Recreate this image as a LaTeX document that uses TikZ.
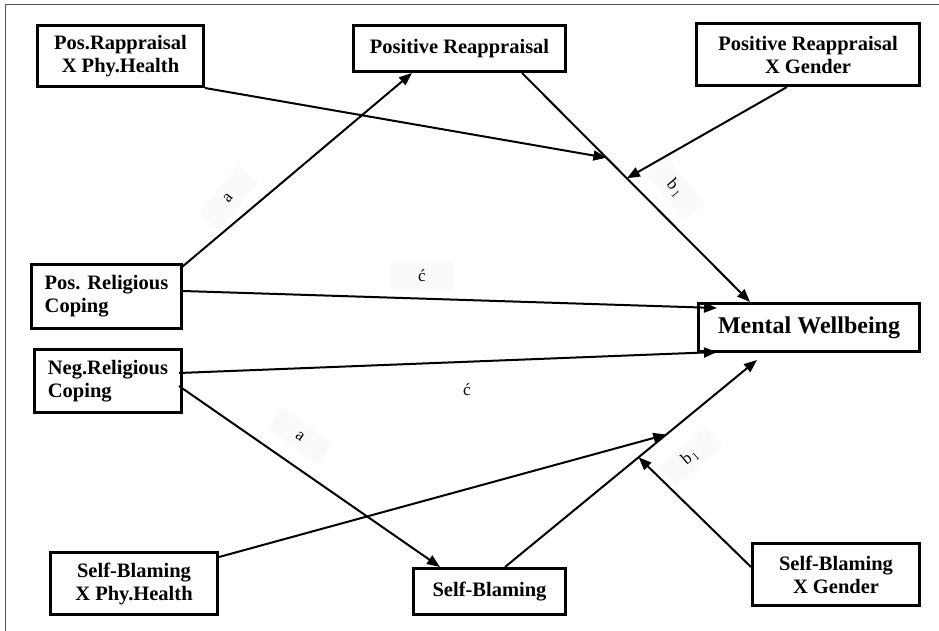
\documentclass[tikz,border=0pt]{standalone}
\usepackage{fontspec}
\setmainfont{Liberation Serif}
\usetikzlibrary{arrows.meta,calc}
\begin{document}
\begin{tikzpicture}[x=1pt,y=-1pt,
  box/.style={draw, line width=3pt, align=center, inner sep=0pt,
    font=\bfseries\fontsize{20.5}{23}\selectfont},
  arr/.style={line width=2pt, -{Triangle[length=13pt,width=10pt]}},
  lbl/.style={fill=black!2, inner sep=2pt, minimum width=62pt, minimum height=26pt,
    font=\fontsize{17}{17}\selectfont}]
\useasboundingbox (0,0) rectangle (939,631);
% frame
\draw[black!65, line width=1pt] (5,640) -- (5,5) -- (945,5);
% boxes
\node[box, minimum width=166pt, minimum height=61pt] (prxph) at (120.5,56) {Pos.Rappraisal\\X Phy.Health};
\node[box, minimum width=212pt, minimum height=46pt] (pr) at (459.5,48.5) {Positive Reappraisal};
\node[box, minimum width=223pt, minimum height=62pt] (prxg) at (808,54.5) {Positive Reappraisal\\X Gender};
\node[box, minimum width=150pt, minimum height=64pt, align=left] (prc) at (106.5,296.5) {Pos. Religious\\Coping};
\node[box, minimum width=147pt, minimum height=63pt, align=left] (nrc) at (108,381) {Neg.Religious\\Coping};
\node[box, minimum width=221pt, minimum height=48pt, font=\bfseries\fontsize{24}{26}\selectfont] (mw) at (809,327.5) {Mental Wellbeing};
\node[box, minimum width=167pt, minimum height=62pt] (sbxph) at (134,583.5) {Self-Blaming\\X Phy.Health};
\node[box, minimum width=152pt, minimum height=46pt] (sb) at (489.5,591.5) {Self-Blaming};
\node[box, minimum width=167pt, minimum height=62pt] (sbxg) at (836,574.5) {Self-Blaming\\X Gender};
% path endpoints on boxes
\coordinate (prB1) at ($(pr.south west)+(60,0)$);
\coordinate (prB2) at ($(pr.south west)+(170,0)$);
\coordinate (mwT) at ($(mw.north west)+(53,0)$);
\coordinate (sbT1) at ($(sb.north west)+(28,0)$);
\coordinate (sbT2) at ($(sb.north west)+(93,0)$);
\coordinate (mwB) at ($(mw.south west)+(60,7)$);
\coordinate (x1) at ($(prB2)!0.37!(mwT)$);
\coordinate (x2) at ($(prB2)!0.46!(mwT)$);
\coordinate (x3) at ($(sbT2)!0.64!(mwB)$);
\coordinate (x4) at ($(sbT2)!0.53!(mwB)$);
% labels
\node[lbl, rotate=50] (la1) at (228,198) {a};
\node[lbl, rotate=-50] (lb1) at (675,188) {b\kern1.5pt$_1$};
\node[lbl] (lc1) at (422,276) {ć};
\node[lbl, fill=none] (lc2) at (467,390) {ć};
\node[lbl, rotate=-35] (la2) at (300,436) {a};
\node[lbl, rotate=40] (lb2) at (690,457) {b\kern1.5pt$_1$};
% connectors
\draw[arr] ($(prc.north east)+(-1,4)$) -- (prB1);
\draw[arr] (prxph.south east) -- (x1);
\draw[arr] (prB2) -- (mwT);
\draw[arr] ($(prxg.south west)+(92,0)$) -- (x2);
\draw[arr] ($(prc.north east)+(0,28)$) -- ($(mw.north west)+(20,6)$);
\draw[arr] ($(nrc.north east)+(-4,25)$) -- ($(mw.south west)+(20,-1)$);
\draw[arr] ($(nrc.north east)+(-4,38)$) -- (sbT1);
\draw[arr] ($(sbxph.north east)+(0,6)$) -- (x3);
\draw[arr] (sbT2) -- (mwB);
\draw[arr] ($(sbxg.north west)+(0,25)$) -- (x4);
\end{tikzpicture}
\end{document}
